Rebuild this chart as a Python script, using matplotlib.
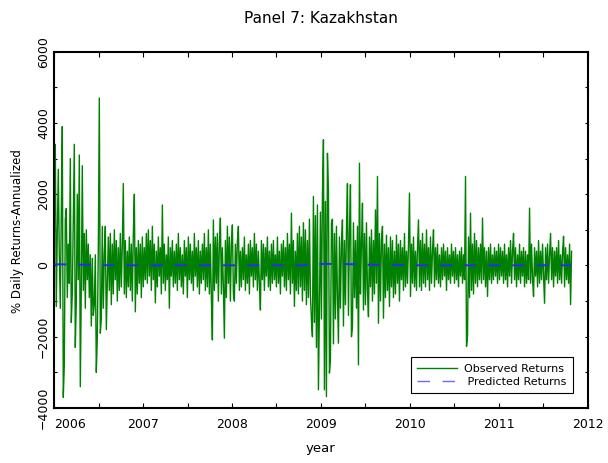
import numpy as np
import matplotlib
matplotlib.use("Agg")
import matplotlib.pyplot as plt
from matplotlib.ticker import MultipleLocator

# Observed daily returns (annualized, %), one list per calendar year
obs_2006 = [
    1800, 3400, -1150, 900, 2700, 300, -1200, 1500, 3900, -3700,
    -2800, 1300, 1600, -900, 600, -500, 3000, -1600, -800, 1200,
    3400, -2300, -1000, 2000, -400, 3100, -3400, -600, 2800, -700,
    900, -1200, 1000, -400, 600, -900, 300, -1700, 200, -1400,
    -1100, 300, -3000, -2000, 500, 4700, -1900, -1500, 1100, -1200,
    300, 1100, -1800, -500, 800, -700, 900, -1100, 600, -800,
    1000, -400, 700, -1000, 500, -700, 900, -600, 600, 2300,
    -800, 700, -900, 400, -600, 800, -700, 600, -1000, 900,
    2000, -1300, 500, -800, 700, -500, 600, -900, 800,
]
obs_2007 = [
    -600, 500, -400, 900, -500, 1000, -300, 700, -700, 1100,
    -400, 600, -1050, 400, -600, 800, -300, 500, -800, 1700,
    -500, 600, -700, 300, -400, 800, -1200, 500, -300, 700,
    -600, 400, -500, 600, -700, 900, -400, 500, -600, 300,
    -800, 700, -300, 500, -900, 800, -400, 600, -500, 400,
    -700, 900, -300, 500, -600, 700, -800, 400, -500, 600,
    -400, 900, -700, 500, -600, 1000, -800, 600, -900, -2090,
    1280, -700, 800, -500, 900, -1000, 600, 1330, -800, 500,
    -600, -2040, 700, -900, 1100, -500, 800, -1000, 600,
]
obs_2008 = [
    1140, -800, -1000, 600, -500, 700, 1100, -700, 400, -600,
    500, -400, 800, -700, 300, -500, 600, -800, 700, -300,
    500, -600, 900, -400, 600, -700, 400, -500, -1250, 700,
    -400, 600, -700, 500, -300, 800, -600, 400, -700, 600,
    -500, 700, -400, 300, -600, 800, -500, 400, -800, 600,
    -300, 700, -600, 500, -700, 900, -400, 600, -800, 1470,
    -500, 700, -1150, 400, -700, 900, -800, 1100, -600, 800,
    -1000, 1200, -700, 1000, -1100, 700, -900, 1300, -800, -1530,
    -2000, 1940, -1600, 1400, -2300, 1700, -3490, -1200, 1500,
]
obs_2009 = [
    -1500, 2000, 3530, -3490, 1800, -3680, 3150, 2100, -3020, -2600,
    1200, 1300, -2200, 900, -1500, 1100, -900, -2180, 800, -1200,
    600, 1280, -1700, 700, -1100, 1000, 2300, -1400, 900, 2270,
    -2000, -1710, 1200, -900, 700, -1200, 1100, -2790, 2870, -800,
    600, 1750, -1250, 900, -1100, 1200, -700, -1440, 800, -600,
    1000, -1000, 700, -800, 1560, -500, 2500, -1620, 900, -1000,
    700, 1100, -1480, 600, -900, 850, -700, 500, -1150, 800,
    -600, 700, -900, 400, -800, 850, -500, 600, -1000, 700,
    -400, 500, -700, 900, -600, 400, -500, 600, 2030,
]
obs_2010 = [
    -870, 600, -500, 800, -600, 400, -700, 500, 1280, -600,
    700, -700, 900, -500, 600, -600, 1000, -400, 500, -700,
    800, -500, 400, 1000, -600, 500, -400, 600, -500, 300,
    -600, 500, -400, 600, -300, 400, -700, 500, -400, 300,
    -500, 600, -300, 400, -500, 500, -400, 300, -600, 400,
    -300, 500, -500, 300, -400, 2500, -2270, -1970, 800, -900,
    1470, -700, 600, -800, 900, -500, 700, -600, 500, -400,
    600, -500, 1330, -400, 500, -600, 400, -870, 500, -400,
    600, -500, 300, -400, 500, -300, 400, -500, 600,
]
obs_2011 = [
    -400, 500, -300, 400, -500, 600, -400, 300, -600, 500,
    -300, 700, -500, 400, 900, -400, 500, -600, 300, -400,
    600, -500, 400, -300, 500, -600, 400, -500, 300, -400,
    1610, -500, 600, -400, -870, 500, -300, 400, -600, 700,
    -500, 400, -400, 600, -300, -1060, 500, -400, 600, -500,
    300, 900, -400, 500, -600, 400, -300, 500, -500, 700,
    -400, 300, -500, 400, 820, -600, 500, -400, 300, -500,
    600, -1100, 400,
]

# Model-predicted returns (quarterly)
predicted = [35, 25, 10, 5, 5, 5, 5, 5, 5, 5, 5, 5,
             45, 40, 20, 10, 5, 5, 5, 5, 5, 5, 5, 5]

# Sample period and axis labelling
start_year = 2006.0
end_year = 2011.82
year_ticks = [2006, 2007, 2008, 2009, 2010, 2011, 2012]
year_labels = ["2006", "2007", "2008", "2009", "2010", "2011", "2012"]
y_ticks = [-4000, -2000, 0, 2000, 4000, 6000]
y_labels = ["\u22124000", "\u22122000", "0", "2000", "4000", "6000"]

observed = np.array(obs_2006 + obs_2007 + obs_2008 + obs_2009 + obs_2010 + obs_2011,
                    dtype=float)
t_obs = np.linspace(start_year, end_year, len(observed))
t_pred = np.linspace(start_year, end_year, len(predicted))

fig = plt.figure(figsize=(6.08, 4.63), dpi=100)
ax = fig.add_axes([0.0893, 0.1188, 0.8771, 0.7695])

ax.plot(t_obs, observed, color="#008000", lw=1.0, label="Observed Returns", zorder=2)
ax.plot(t_pred, predicted, color="#2a2aee", lw=1.4, dashes=(6.2, 6.2),
        label=" Predicted Returns", zorder=3)

ax.set_xlim(2006, 2012)
ax.set_ylim(-4000, 6000)
ax.set_xticks(year_ticks, year_labels, fontsize=9)
ax.set_yticks(y_ticks, y_labels, fontsize=9, rotation=90, va="center")
ax.xaxis.set_minor_locator(MultipleLocator(0.5))
ax.yaxis.set_minor_locator(MultipleLocator(1000))
ax.get_xticklabels()[0].set_ha("left")

ax.tick_params(axis="both", which="both", direction="in", top=True, right=True,
               width=0.8, colors="black")
ax.tick_params(axis="x", which="both", length=3.3, pad=7)
ax.tick_params(axis="y", which="both", length=2.0, pad=3)
for sp in ax.spines.values():
    sp.set_linewidth(1.5)

leg = ax.legend(loc="lower right", bbox_to_anchor=(0.972, 0.042), borderaxespad=0,
                fontsize=8, frameon=True, fancybox=False, edgecolor="black",
                framealpha=1, handlelength=3.6, handletextpad=0.6,
                labelspacing=0.3, borderpad=0.55)
leg.get_frame().set_linewidth(0.8)
leg.get_lines()[1].set_color("#6a6aff")
leg.get_lines()[1].set_linewidth(1.0)
leg.get_lines()[1].set_dashes((9, 9))

cx = 0.0893 + 0.8771 / 2
fig.text(cx, 0.961, "Panel 7: Kazakhstan", ha="center", va="center", fontsize=11)
fig.text(cx, 0.032, "year", ha="center", va="center", fontsize=9.5)
fig.text(0.0296, 0.5, "% Daily Returns-Annualized", rotation=90,
         ha="center", va="center", fontsize=8.5)

fig.savefig("out.png", dpi=100)
